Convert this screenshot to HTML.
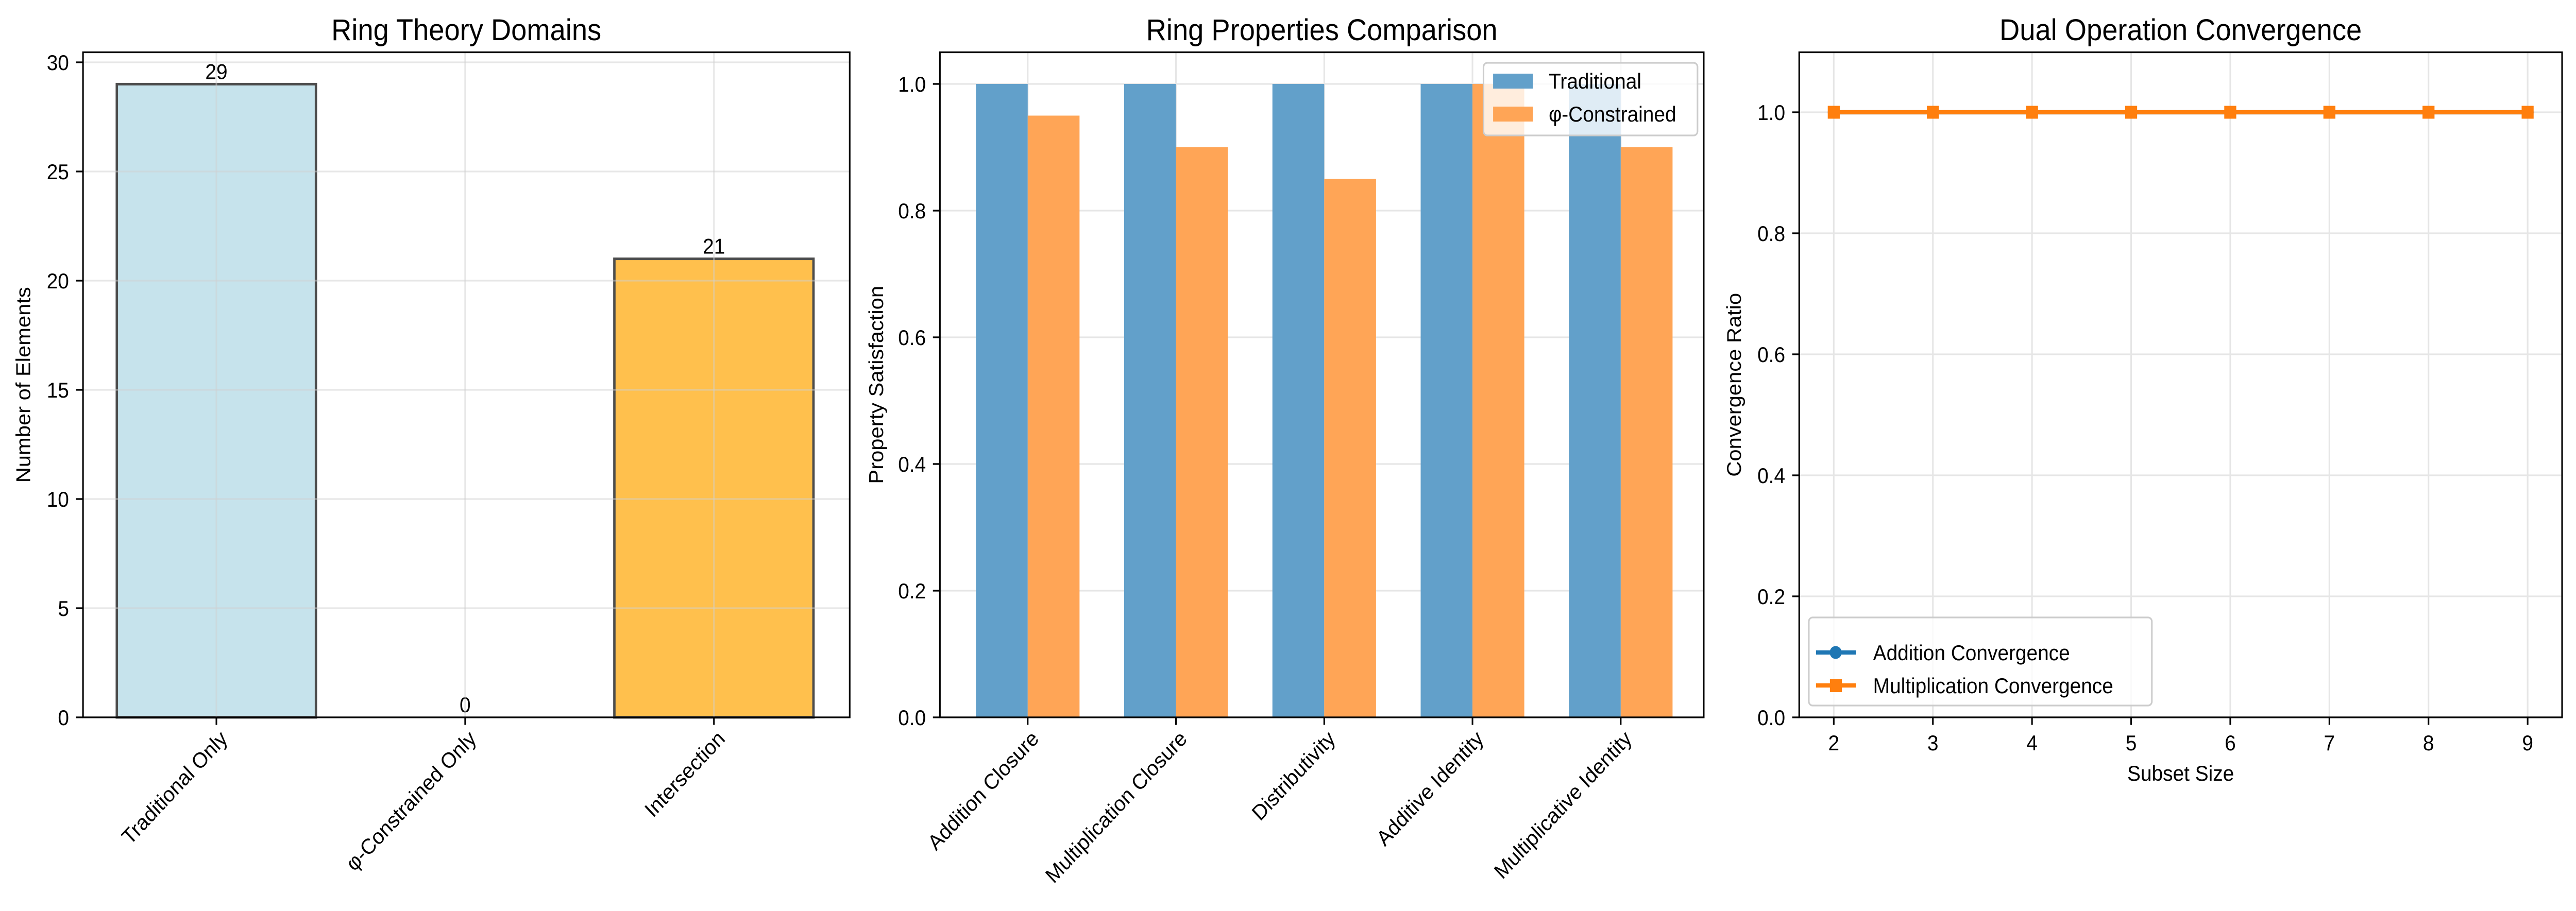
<!DOCTYPE html>
<html><head><meta charset="utf-8"><style>
html,body{margin:0;padding:0;background:#fff;overflow:hidden;width:100%;height:100%}
svg{display:block;width:100vw;height:100vh}
text{font-family:"Liberation Sans","DejaVu Sans",sans-serif;fill:#000}
</style></head><body>
<svg id="fig" xmlns="http://www.w3.org/2000/svg" viewBox="0 0 5369 1769" preserveAspectRatio="none"></svg>
<script>
// Panel 1 data
const domainCats = ["Traditional Only", "φ-Constrained Only", "Intersection"];
const domainCounts = [29, 0, 21];
const domainTicks = [0, 5, 10, 15, 20, 25, 30];
// Panel 2 data
const propCats = ["Addition Closure", "Multiplication Closure", "Distributivity", "Additive Identity", "Multiplicative Identity"];
const tradValues = [1.0, 1.0, 1.0, 1.0, 1.0];
const phiValues = [0.95, 0.90, 0.85, 1.0, 0.90];
const propTicks = [0.0, 0.2, 0.4, 0.6, 0.8, 1.0];
// Panel 3 data
const subsetSizes = [2, 3, 4, 5, 6, 7, 8, 9];
const addConv = [1, 1, 1, 1, 1, 1, 1, 1];
const mulConv = [1, 1, 1, 1, 1, 1, 1, 1];
const convTicks = [0.0, 0.2, 0.4, 0.6, 0.8, 1.0];

const NS = "http://www.w3.org/2000/svg";
const svg = document.getElementById("fig");
function mk(tag, attrs, parent, txt) {
  const e = document.createElementNS(NS, tag);
  for (const k in attrs) e.setAttribute(k, attrs[k]);
  if (txt !== undefined) e.textContent = txt;
  (parent || svg).appendChild(e);
  return e;
}
const FS = 41.7, TFS = 58.3, TICK = 14.6, GRID = "#e6e6e6";
const TOP = 101.5, BOT = 1393;

function frame(g, L, R) {
  const r = mk("rect", {x: L, y: TOP, width: R - L, height: BOT - TOP, fill: "none", stroke: "#000", "stroke-width": 3.3}, g);
  
  
}
function title(g, L, R, t) {
  const e = mk("text", {x: (L + R) / 2, y: 78, "font-size": TFS, "text-anchor": "middle"}, g, t);
  
  
}
function ylabel(g, x, t) {
  const e = mk("text", {x: x, y: (TOP + BOT) / 2, "font-size": FS, "text-anchor": "middle", transform: `rotate(-90 ${x} ${(TOP + BOT) / 2})`, dy: "0.35em"}, g, t);
  
  
}
function yticks(g, L, R, ticks, y, fmt) {
  ticks.forEach(v => {
    const yy = y(v);
    const tk = mk("line", {x1: L - TICK, x2: L, y1: yy, y2: yy, stroke: "#000", "stroke-width": 3.3}, g);
    
    
    const lb = mk("text", {x: L - TICK - 14.6, y: yy + 15, "font-size": FS, "text-anchor": "end"}, g, fmt(v));
    
    
  });
}
function rotLabel(g, x, t) {
  const y = BOT + TICK + 18;
  const e = mk("text", {x: x + 10, y: y + 26, "font-size": FS, "text-anchor": "end", transform: `rotate(-45 ${x} ${y})`}, g, t);
  
  
}
function xtick(g, x) {
  const tk = mk("line", {x1: x, x2: x, y1: BOT, y2: BOT + TICK, stroke: "#000", "stroke-width": 3.3}, g);
  
  
}

// ===== Panel 1 =====
(function () {
  const L = 173, R = 1771;
  const g = mk("g", {});
  
  
  const yS = v => BOT - v * ((BOT - 121) / 30);
  const x = i => 451 + i * 518.5;
  const bw = 415;
  const colors = ["#c6e3ec", "#c6e3ec", "#ffc04d"];
  domainCounts.forEach((v, i) => {
    const r = mk("rect", {x: x(i) - bw / 2, y: yS(v), width: bw, height: Math.max(0, BOT - yS(v)), fill: colors[i], stroke: "#4d4d4d", "stroke-width": 5}, g);
    
    
    const t = mk("text", {x: x(i), y: yS(v) - 10, "font-size": FS, "text-anchor": "middle"}, g, String(v));
    
    
  });
  domainTicks.forEach(v => {
    const gl = mk("line", {x1: L, x2: R, y1: yS(v), y2: yS(v), stroke: "#d0d0d0", "stroke-opacity": 0.5, "stroke-width": 3.3}, g);
    
    
  });
  domainCats.forEach((c, i) => {
    const gl = mk("line", {x1: x(i), x2: x(i), y1: TOP, y2: BOT, stroke: "#d0d0d0", "stroke-opacity": 0.5, "stroke-width": 3.3}, g);
    
    
    xtick(g, x(i));
    rotLabel(g, x(i), c);
  });
  yticks(g, L, R, domainTicks, yS, v => String(v));
  frame(g, L, R);
  title(g, L, R, "Ring Theory Domains");
  ylabel(g, 48, "Number of Elements");
})();

// ===== Panel 2 =====
(function () {
  const L = 1959, R = 3551;
  const g = mk("g", {});
  
  
  const y = v => BOT - v * ((BOT - 163) / 1.0);
  const x = i => 2142 + i * 309;
  const bw = 108;
  propTicks.forEach(v => {
    const gl = mk("line", {x1: L, x2: R, y1: y(v), y2: y(v), stroke: GRID, "stroke-width": 3.3}, g);
    
    
  });
  propCats.forEach((c, i) => {
    const gl = mk("line", {x1: x(i), x2: x(i), y1: TOP, y2: BOT, stroke: GRID, "stroke-width": 3.3}, g);
    
    
  });
  propCats.forEach((c, i) => {
    const a = mk("rect", {x: x(i) - bw, y: y(tradValues[i]), width: bw, height: BOT - y(tradValues[i]), fill: "#62a0ca"}, g);
    
    
    const b = mk("rect", {x: x(i), y: y(phiValues[i]), width: bw, height: BOT - y(phiValues[i]), fill: "#ffa556"}, g);
    
    
    xtick(g, x(i));
    rotLabel(g, x(i), c);
  });
  yticks(g, L, R, propTicks, y, v => v.toFixed(1));
  frame(g, L, R);
  title(g, L, R, "Ring Properties Comparison");
  ylabel(g, 1826, "Property Satisfaction");
  const lg = mk("g", {});
  
  
  mk("rect", {x: 3092, y: 122, width: 446, height: 141, rx: 8, fill: "#fff", "fill-opacity": 0.8, stroke: "#ccc", "stroke-width": 3.3}, lg);
  const e1 = mk("rect", {x: 3112, y: 143, width: 83, height: 29, fill: "#62a0ca"}, lg);
  
  
  const t1 = mk("text", {x: 3228, y: 172, "font-size": FS}, lg, "Traditional");
  
  
  const e2 = mk("rect", {x: 3112, y: 207, width: 83, height: 29, fill: "#ffa556"}, lg);
  
  
  const t2 = mk("text", {x: 3228, y: 236, "font-size": FS}, lg, "φ-Constrained");
  
  
})();

// ===== Panel 3 =====
(function () {
  const L = 3750, R = 5340;
  const g = mk("g", {});
  
  
  const y = v => BOT - v * ((BOT - 218) / 1.0);
  const x = v => 3822 + (v - 2) * 206.6;
  convTicks.forEach(v => {
    const gl = mk("line", {x1: L, x2: R, y1: y(v), y2: y(v), stroke: GRID, "stroke-width": 3.3}, g);
    
    
  });
  subsetSizes.forEach(s => {
    const gl = mk("line", {x1: x(s), x2: x(s), y1: TOP, y2: BOT, stroke: GRID, "stroke-width": 3.3}, g);
    
    
    xtick(g, x(s));
    const lb = mk("text", {x: x(s), y: 1457, "font-size": FS, "text-anchor": "middle"}, g, String(s));
    
    
  });
  const p1 = mk("polyline", {points: subsetSizes.map((s, i) => x(s) + "," + y(addConv[i])).join(" "), fill: "none", stroke: "#1f77b4", "stroke-width": 8.3}, g);
  
  
  subsetSizes.forEach((s, i) => {
    const c = mk("circle", {cx: x(s), cy: y(addConv[i]), r: 12.5, fill: "#1f77b4"}, g);
    
    
  });
  const p2 = mk("polyline", {points: subsetSizes.map((s, i) => x(s) + "," + y(mulConv[i])).join(" "), fill: "none", stroke: "#ff7f0e", "stroke-width": 8.3}, g);
  
  
  subsetSizes.forEach((s, i) => {
    const m = mk("rect", {x: x(s) - 12.5, y: y(mulConv[i]) - 12.5, width: 25, height: 25, fill: "#ff7f0e"}, g);
    
    
  });
  yticks(g, L, R, convTicks, y, v => v.toFixed(1));
  frame(g, L, R);
  title(g, L, R, "Dual Operation Convergence");
  ylabel(g, 3614, "Convergence Ratio");
  const xl = mk("text", {x: (L + R) / 2, y: 1516, "font-size": FS, "text-anchor": "middle"}, g, "Subset Size");
  
  
  const lg = mk("g", {});
  
  
  mk("rect", {x: 3770, y: 1199, width: 715, height: 171, rx: 8, fill: "#fff", "fill-opacity": 0.8, stroke: "#ccc", "stroke-width": 3.3}, lg);
  mk("line", {x1: 3785, x2: 3868, y1: 1267, y2: 1267, stroke: "#1f77b4", "stroke-width": 8.3}, lg);
  mk("circle", {cx: 3826, cy: 1267, r: 12.5, fill: "#1f77b4"}, lg);
  const t1 = mk("text", {x: 3904, y: 1282, "font-size": FS}, lg, "Addition Convergence");
  
  
  mk("line", {x1: 3785, x2: 3868, y1: 1331, y2: 1331, stroke: "#ff7f0e", "stroke-width": 8.3}, lg);
  mk("rect", {x: 3814, y: 1319, width: 25, height: 25, fill: "#ff7f0e"}, lg);
  const t2 = mk("text", {x: 3904, y: 1346, "font-size": FS}, lg, "Multiplication Convergence");
  
  
})();
</script>
</body></html>
